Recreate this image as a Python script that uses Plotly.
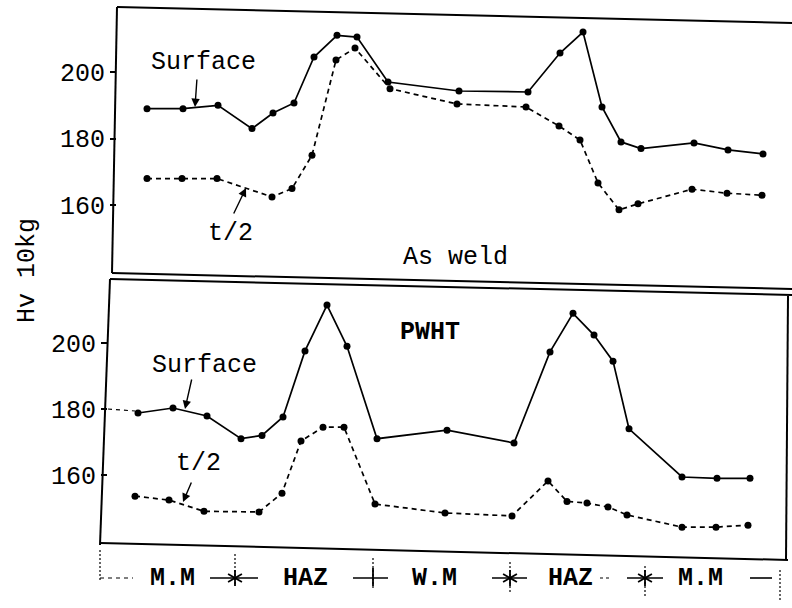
import math
import plotly.graph_objects as go

# Vickers hardness (Hv 10kg) traverses across the weld, two depths, two conditions.
# Positions are the traverse stations along the plate width.
aw_surface_pos = [147, 183, 218, 252, 273, 294, 314, 337, 357, 388, 459, 528, 560, 583, 602, 621, 641, 694, 728, 763]
aw_surface_hv = [189, 189, 190, 183, 187.7, 190.7, 204.5, 211, 210.5, 197, 194.3, 194, 205.7, 212, 189.5, 179, 177, 178.7, 176.6, 175.4]

aw_half_pos = [147, 182, 217, 272, 292, 312, 336, 355, 390, 457, 526, 559, 580, 598, 619, 638, 692, 727, 762]
aw_half_hv = [168, 168, 168, 162.5, 165, 175, 203.6, 207.2, 195, 190.4, 189.5, 183.8, 179.6, 166.7, 158.6, 160.4, 164.8, 163.6, 163]

pw_surface_pos = [138, 173, 207, 241, 262, 283, 305, 327, 347, 377, 447, 514, 550, 573, 594, 613, 629, 682, 717, 750]
pw_surface_hv = [178.8, 180.3, 177.9, 171, 172, 177.6, 197.6, 211.5, 199, 171, 173.6, 169.7, 197.3, 209, 202.4, 194.5, 174, 159.4, 159, 159]

pw_half_pos = [135, 169, 204, 259, 282, 301, 323, 344, 375, 445, 512, 548, 567, 587, 608, 627, 682, 716, 748]
pw_half_hv = [153.6, 152.4, 149, 148.8, 154.5, 170.3, 174.5, 174.5, 151.2, 148.5, 147.6, 158.2, 152, 151.5, 150.3, 147.9, 144.2, 144.2, 144.8]

hv_ticks = [160, 180, 200]

zone_labels = ["M.M", "HAZ", "W.M", "HAZ", "M.M"]
zone_centers = [172, 305, 435, 570, 700]
zone_bounds = [100, 235, 373, 510, 645, 780]

W, H = 792, 608
FONT = "Liberation Mono"


def px(x, y):
    """Page pixel -> paper fraction (margins are zero)."""
    return x / W, (H - y) / H


fig = go.Figure()

line_solid = dict(color="black", width=1.7)
line_dash = dict(color="black", width=1.7, dash="5px,4px")
mk = dict(color="black", size=7)

fig.add_trace(go.Scatter(x=aw_surface_pos, y=aw_surface_hv, mode="lines+markers",
                         line=line_solid, marker=mk, xaxis="x", yaxis="y", name="Surface"))
fig.add_trace(go.Scatter(x=aw_half_pos, y=aw_half_hv, mode="lines+markers",
                         line=line_dash, marker=mk, xaxis="x", yaxis="y", name="t/2"))
fig.add_trace(go.Scatter(x=pw_surface_pos, y=pw_surface_hv, mode="lines+markers",
                         line=line_solid, marker=mk, xaxis="x", yaxis="y2", name="Surface"))
fig.add_trace(go.Scatter(x=pw_half_pos, y=pw_half_hv, mode="lines+markers",
                         line=line_dash, marker=mk, xaxis="x", yaxis="y2", name="t/2"))

shapes = []


def seg(x0, y0, x1, y1, width=2, dash="solid"):
    a, b = px(x0, y0)
    c, d = px(x1, y1)
    shapes.append(dict(type="line", xref="paper", yref="paper", x0=a, y0=b, x1=c, y1=d,
                       line=dict(color="black", width=width, dash=dash)))


# panel frames (slightly skewed, as on the original sheet)
seg(117, 7, 792, 23)
seg(117, 7, 112, 273)
seg(112, 273, 792, 289)
seg(110, 279, 792, 295)
seg(110, 279, 100, 545)
seg(100, 543, 788, 560)
seg(788, 296, 786, 560)
# surface trace lead-in from the axis (PWHT)
seg(108, 409, 135, 411, width=1.2, dash="4px,4px")

# zone strip under the chart
strip_y = 578
seg(100, strip_y, 133, strip_y, width=1.2, dash="4px,4px")
seg(210, strip_y, 258, strip_y, width=1.6)
seg(353, strip_y, 388, strip_y, width=1.6)
seg(492, strip_y, 527, strip_y, width=1.6)
seg(600, strip_y, 612, strip_y, width=1.2, dash="3px,3px")
seg(627, strip_y, 663, strip_y, width=1.6)
seg(750, strip_y, 772, strip_y, width=1.6)
for i, xb in enumerate(zone_bounds):
    top = 550 + 4 * i
    seg(xb, top, xb, top + 32, width=1.2, dash="2px,2px")


def star(xc, yc, r=8):
    for ang in (90, 30, 150):
        dx = r * math.cos(math.radians(ang))
        dy = r * math.sin(math.radians(ang))
        seg(xc - dx, yc - dy, xc + dx, yc + dy, width=1.8)


for xs in (zone_bounds[1], zone_bounds[3], zone_bounds[4]):
    star(xs, strip_y)
seg(zone_bounds[2], strip_y - 10, zone_bounds[2], strip_y + 8, width=1.8)

annotations = []


def text(s, x, y, size=25, angle=0):
    a, b = px(x, y)
    annotations.append(dict(text=s, x=a, y=b, xref="paper", yref="paper", showarrow=False,
                            xanchor="center", yanchor="middle", textangle=angle,
                            font=dict(family=FONT, size=size, color="black")))


def arrow(x_tail, y_tail, x_tip, y_tip):
    a, b = px(x_tip, y_tip)
    annotations.append(dict(text="", x=a, y=b, xref="paper", yref="paper", showarrow=True,
                            ax=x_tail - x_tip, ay=y_tail - y_tip, axref="pixel", ayref="pixel",
                            arrowhead=2, arrowsize=1.2, arrowwidth=1.4, arrowcolor="black"))


text("Surface", 203, 62)
arrow(197, 78, 195, 107)
text("t/2", 230, 234)
arrow(233, 215, 246, 188)
text("As weld", 455, 257)

text("<b>PWHT</b>", 430, 332)
text("Surface", 204, 365)
arrow(192, 378, 185, 409)
text("t/2", 198, 463)
arrow(192, 481, 183, 502)

text("Hv 10kg", 27, 270, angle=-90)

for lab, xc in zip(zone_labels, zone_centers):
    text("<b>" + lab + "</b>", xc, strip_y, size=25)

y_top = (H - 272) / H, (H - 7) / H
y_bot = (H - 548) / H, (H - 278) / H

axis_common = dict(tickvals=hv_ticks, ticks="outside", ticklen=6, tickwidth=1.5,
                   tickcolor="black", showline=False, showgrid=False, zeroline=False,
                   tickfont=dict(family=FONT, size=25, color="black"), anchor="free")

fig.update_layout(
    width=W, height=H,
    margin=dict(l=0, r=0, t=0, b=0),
    paper_bgcolor="white", plot_bgcolor="white",
    showlegend=False,
    xaxis=dict(domain=[0, 1], range=[0, W], visible=False, anchor="y"),
    yaxis=dict(domain=list(y_top), range=[139.94, 219.52], position=116 / W, **axis_common),
    yaxis2=dict(domain=list(y_bot), range=[137.88, 219.70], position=107 / W, **axis_common),
    shapes=shapes,
    annotations=annotations,
)

fig.write_html("out.html")
